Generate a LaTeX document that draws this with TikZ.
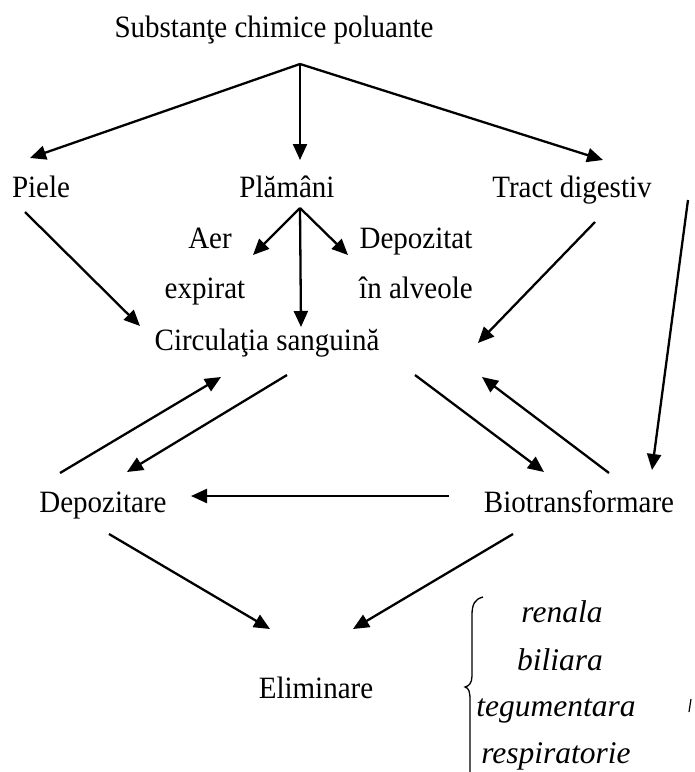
\documentclass[tikz,border=0pt]{standalone}
\usepackage{fontspec}
\setmainfont{Liberation Serif}
\usetikzlibrary{arrows.meta}
\newcommand\tallt[1]{\scalebox{1}[1.07]{#1}}
\begin{document}
\begin{tikzpicture}[x=1pt,y=-1pt,
  lbl/.style={anchor=base,inner sep=0pt,font=\fontsize{29}{29}\selectfont},
  ilbl/.style={anchor=base,inner sep=0pt,font=\fontsize{31.5}{31.5}\selectfont\itshape},
  arr/.style={line width=2.3pt,-{Triangle[length=16pt,width=14pt]}},
  brace/.style={line width=1.3pt}]
\useasboundingbox (0,0) rectangle (695,772);
% labels
\node[lbl] (subst) at (274,37) {\tallt{Substanţe chimice poluante}};
\node[lbl] (piele) at (41,197) {\tallt{Piele}};
\node[lbl] (plam) at (287,197) {\tallt{Plămâni}};
\node[lbl] (tract) at (572,197) {\tallt{Tract digestiv}};
\node[lbl] (aer) at (210,248) {\tallt{Aer}};
\node[lbl] (expir) at (205,298) {\tallt{expirat}};
\node[lbl] (depoz) at (416,248) {\tallt{Depozitat}};
\node[lbl] (alv) at (416,298) {\tallt{în alveole}};
\node[lbl] (circ) at (267,350) {\tallt{Circulaţia sanguină}};
\node[lbl] (dep) at (103,512) {\tallt{Depozitare}};
\node[lbl] (bio) at (579,512) {\tallt{Biotransformare}};
\node[lbl] (elim) at (316,698) {\tallt{Eliminare}};
\node[ilbl] (ren) at (562,622) {renala};
\node[ilbl] (bil) at (560,670) {biliara};
\node[ilbl] (teg) at (556,716) {tegumentara};
\node[ilbl] (resp) at (556,763) {respiratorie};
% connector end points
\coordinate (sb) at (300,64);
\coordinate (pieleIn) at (30,158);
\coordinate (plamIn) at (300,160);
\coordinate (tractIn) at (603,160);
\coordinate (pb) at (300,208);
\coordinate (aerIn) at (253,255);
\coordinate (depozIn) at (348,255);
\coordinate (circInTop) at (301,327);
\coordinate (pieleOut) at (25,212);
\coordinate (circInL) at (140,326);
\coordinate (tractOut) at (595,222);
\coordinate (circInR) at (478,343);
\coordinate (tractOut2) at (688,200);
\coordinate (bioInTop) at (652,470);
\coordinate (circOutL) at (287,375);
\coordinate (depInTop) at (127,472);
\coordinate (depOutTop) at (60,473);
\coordinate (circInBL) at (221,377);
\coordinate (circOutR) at (415,375);
\coordinate (bioInL) at (544,472);
\coordinate (bioOutTop) at (609,473);
\coordinate (circInBR) at (482,377);
\coordinate (bioOutL) at (449,496);
\coordinate (depInR) at (191,496);
\coordinate (depOutB) at (109,534);
\coordinate (elimInL) at (270,629);
\coordinate (bioOutB) at (513,534);
\coordinate (elimInR) at (353,629);
% connectors
\draw[arr] (sb) -- (pieleIn);
\draw[arr] (sb) -- (plamIn);
\draw[arr] (sb) -- (tractIn);
\draw[arr] (pb) -- (aerIn);
\draw[arr] (pb) -- (depozIn);
\draw[arr] (pb) -- (circInTop);
\draw[arr] (pieleOut) -- (circInL);
\draw[arr] (tractOut) -- (circInR);
\draw[arr] (tractOut2) -- (bioInTop);
\draw[arr] (circOutL) -- (depInTop);
\draw[arr] (depOutTop) -- (circInBL);
\draw[arr] (circOutR) -- (bioInL);
\draw[arr] (bioOutTop) -- (circInBR);
\draw[arr] (bioOutL) -- (depInR);
\draw[arr] (depOutB) -- (elimInL);
\draw[arr] (bioOutB) -- (elimInR);
% brace
\draw[brace] (483,597) .. controls (475,599) and (472,604) .. (472,615)
  -- (472,676) .. controls (472,683) and (469,686) .. (465,687)
  .. controls (469,688) and (470,692) .. (470,700) -- (470,772);
\draw[line width=1.2pt] (691,699) -- (689,712);
\end{tikzpicture}
\end{document}
